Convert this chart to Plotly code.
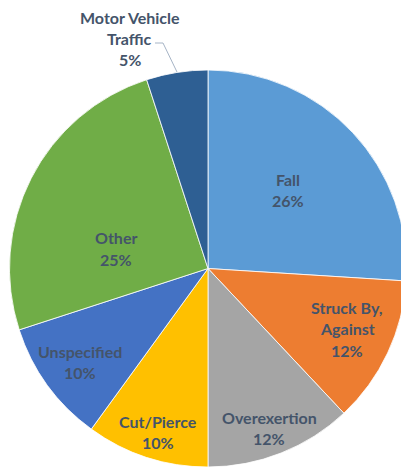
import plotly.graph_objects as go

# page has an 8px default body margin; figure sized to fit the 409x467 window
OFF = 8
W, H = 409 - OFF, 467 - OFF

categories = ["Fall", "Struck By, Against", "Overexertion", "Cut/Pierce",
              "Unspecified", "Other", "Motor Vehicle Traffic"]
values = [26, 12, 12, 10, 10, 25, 5]
label_lines = [["Fall"], ["Struck By,", "Against"], ["Overexertion"], ["Cut/Pierce"],
               ["Unspecified"], ["Other"], ["Motor Vehicle", "Traffic"]]
colors = ["#5b9bd5", "#ed7d31", "#a5a5a5", "#ffc000", "#4472c4", "#70ad47", "#2e5f93"]

# label anchor (center of first line) in page pixels
label_pos = [(288, 179), (347, 307), (269, 417), (158, 421), (80, 351), (116, 238), (130, 17)]
LINE_H = 21.5
TEXT_COLOR = "#44546a"


def px(x):
    return (x - OFF) / W


def py(y):
    return 1 - (y - OFF) / H


fig = go.Figure(go.Pie(
    labels=categories,
    values=values,
    sort=False,
    direction="clockwise",
    rotation=0,
    textinfo="none",
    hoverinfo="label+percent",
    marker=dict(colors=colors, line=dict(color="rgba(255,255,255,0.8)", width=1)),
    domain=dict(x=[px(8), px(408)], y=[0, py(70)]),
    showlegend=False,
))

total = sum(values)
annotations = []
for lines, v, (lx, ly) in zip(label_lines, values, label_pos):
    pct = f"{round(100 * v / total)}%"
    for i, t in enumerate(lines + [pct]):
        annotations.append(dict(
            x=px(lx), y=py(ly + i * LINE_H), xref="paper", yref="paper",
            text=f"<b>{t}</b>", showarrow=False, xanchor="center", yanchor="middle",
            font=dict(family="Lato", size=16, color=TEXT_COLOR),
        ))

# leader line for Motor Vehicle Traffic
shapes = [dict(
    type="path", xref="paper", yref="paper",
    path=f"M {px(155)},{py(43)} L {px(163)},{py(43)} L {px(177)},{py(72)}",
    line=dict(color="#a6b4c6", width=1),
)]

fig.update_layout(
    width=W, height=H,
    margin=dict(l=0, r=0, t=0, b=0),
    paper_bgcolor="white",
    plot_bgcolor="white",
    annotations=annotations,
    shapes=shapes,
)

fig.write_html("out.html")
